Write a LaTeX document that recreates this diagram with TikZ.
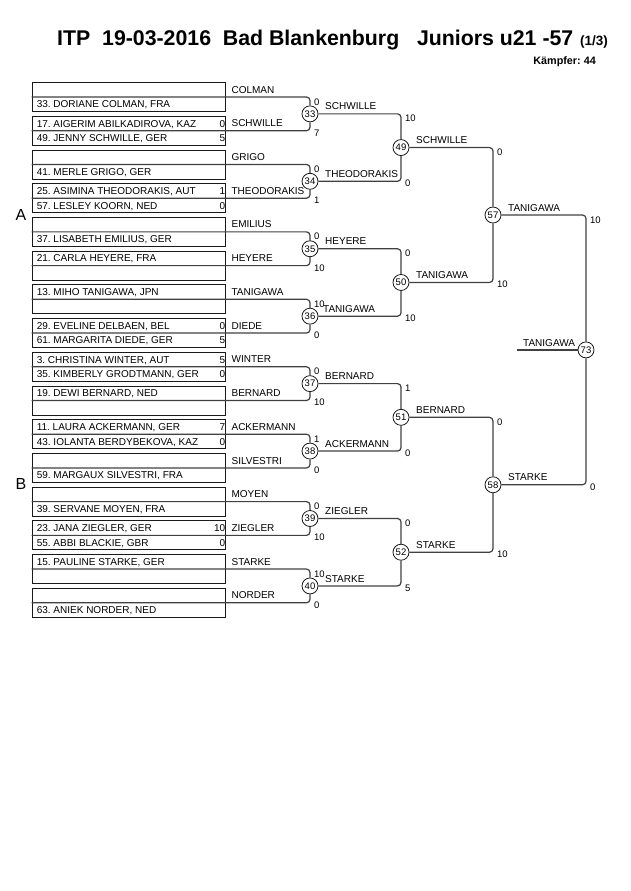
\documentclass[tikz,border=0pt]{standalone}
\usepackage{fontspec}
\setmainfont{Liberation Sans}
\usetikzlibrary{calc}
\frenchspacing

\begin{document}
\begin{tikzpicture}[x=1pt,y=-1pt]
    \tikzstyle{entry} = [rectangle, draw=black!90, line width=0.8pt, minimum width=193pt, minimum height=29pt, inner sep=0pt]
    \tikzstyle{fighter} = [anchor=base west, inner sep=0pt, font=\fontsize{10}{12}\selectfont]
    \tikzstyle{boxscore} = [anchor=base east, inner sep=0pt, font=\fontsize{10}{12}\selectfont]
    \tikzstyle{winner} = [anchor=base west, inner sep=0pt, font=\fontsize{10}{12}\selectfont]
    \tikzstyle{score} = [anchor=base west, inner sep=0pt, font=\fontsize{9.5}{11}\selectfont]
    \tikzstyle{match} = [circle, draw=black!90, line width=0.8pt, fill=white, minimum size=16pt, inner sep=0pt, font=\fontsize{9.5}{10}\selectfont]
    \tikzstyle{line} = [draw=black!75, line width=1.2pt, rounded corners=3.5pt]
    \useasboundingbox (0,0) rectangle (630,891);
    % Header
    \node (title) [anchor=base west, inner sep=0pt, font=\bfseries\fontsize{21.3}{21}\selectfont] at (57,46) {ITP\ \ 19-03-2016\ \ Bad Blankenburg\ \ \ Juniors u21 -57};
    \node (page) [anchor=base west, inner sep=0pt, font=\bfseries\fontsize{13.5}{13}\selectfont] at (580,46) {(1/3)};
    \node (count) [anchor=base east, inner sep=0pt, font=\bfseries\fontsize{10.8}{10}\selectfont] at (596,64) {Kämpfer: 44};
    \node (poolA) [font=\fontsize{16}{16}\selectfont] at (21,215) {A};
    \node (poolB) [font=\fontsize{16}{16}\selectfont] at (21,484) {B};
    % Entries
    \foreach \k/\first/\firstsc/\second/\secondsc/\who in {
        0/{}/{}/{33. DORIANE COLMAN, FRA}/{}/COLMAN,
        1/{17. AIGERIM ABILKADIROVA, KAZ}/0/{49. JENNY SCHWILLE, GER}/5/SCHWILLE,
        2/{}/{}/{41. MERLE GRIGO, GER}/{}/GRIGO,
        3/{25. ASIMINA THEODORAKIS, AUT}/1/{57. LESLEY KOORN, NED}/0/THEODORAKIS,
        4/{}/{}/{37. LISABETH EMILIUS, GER}/{}/EMILIUS,
        5/{21. CARLA HEYERE, FRA}/{}/{}/{}/HEYERE,
        6/{13. MIHO TANIGAWA, JPN}/{}/{}/{}/TANIGAWA,
        7/{29. EVELINE DELBAEN, BEL}/0/{61. MARGARITA DIEDE, GER}/5/DIEDE,
        8/{3. CHRISTINA WINTER, AUT}/5/{35. KIMBERLY GRODTMANN, GER}/0/WINTER,
        9/{19. DEWI BERNARD, NED}/{}/{}/{}/BERNARD,
        10/{11. LAURA ACKERMANN, GER}/7/{43. IOLANTA BERDYBEKOVA, KAZ}/0/ACKERMANN,
        11/{}/{}/{59. MARGAUX SILVESTRI, FRA}/{}/SILVESTRI,
        12/{}/{}/{39. SERVANE MOYEN, FRA}/{}/MOYEN,
        13/{23. JANA ZIEGLER, GER}/10/{55. ABBI BLACKIE, GBR}/0/ZIEGLER,
        14/{15. PAULINE STARKE, GER}/{}/{}/{}/STARKE,
        15/{}/{}/{63. ANIEK NORDER, NED}/{}/NORDER}{
        \node (b\k) [entry] at (128.5,97+33.72*\k) {};
        \node [fighter] at ($(b\k.west)+(5,-3.7)$) {\first};
        \node [fighter] at ($(b\k.west)+(5,10.9)$) {\second};
        \node [boxscore] at ($(b\k.east)+(0,-3.7)$) {\firstsc};
        \node [boxscore] at ($(b\k.east)+(0,10.9)$) {\secondsc};
        \node [winner] at ($(b\k.east)+(6,-3.9)$) {\who};
    }
    % Matches
    \node (m33) [match] at (310,113.86) {33};
    \node (m34) [match] at (310,181.30) {34};
    \node (m35) [match] at (310,248.74) {35};
    \node (m36) [match] at (310,316.18) {36};
    \node (m37) [match] at (310,383.62) {37};
    \node (m38) [match] at (310,451.06) {38};
    \node (m39) [match] at (310,518.50) {39};
    \node (m40) [match] at (310,585.94) {40};
    \node (m49) [match] at (401,147.58) {49};
    \node (m50) [match] at (401,282.46) {50};
    \node (m51) [match] at (401,417.34) {51};
    \node (m52) [match] at (401,552.22) {52};
    \node (m57) [match] at (493,215.02) {57};
    \node (m58) [match] at (493,484.78) {58};
    \node (m73) [match] at (586,349.90) {73};
    \coordinate (final) at (517,349.90);
    % Lines
    \draw [line] (b0.west) -- (b0.west -| m33) -- (m33);
    \draw [line] (b1.west) -- (b1.west -| m33) -- (m33);
    \draw [line] (b2.west) -- (b2.west -| m34) -- (m34);
    \draw [line] (b3.west) -- (b3.west -| m34) -- (m34);
    \draw [line] (b4.west) -- (b4.west -| m35) -- (m35);
    \draw [line] (b5.west) -- (b5.west -| m35) -- (m35);
    \draw [line] (b6.west) -- (b6.west -| m36) -- (m36);
    \draw [line] (b7.west) -- (b7.west -| m36) -- (m36);
    \draw [line] (b8.west) -- (b8.west -| m37) -- (m37);
    \draw [line] (b9.west) -- (b9.west -| m37) -- (m37);
    \draw [line] (b10.west) -- (b10.west -| m38) -- (m38);
    \draw [line] (b11.west) -- (b11.west -| m38) -- (m38);
    \draw [line] (b12.west) -- (b12.west -| m39) -- (m39);
    \draw [line] (b13.west) -- (b13.west -| m39) -- (m39);
    \draw [line] (b14.west) -- (b14.west -| m40) -- (m40);
    \draw [line] (b15.west) -- (b15.west -| m40) -- (m40);
    \draw [line] (m33) -- (m33 -| m49) -- (m49);
    \draw [line] (m34) -- (m34 -| m49) -- (m49);
    \draw [line] (m35) -- (m35 -| m50) -- (m50);
    \draw [line] (m36) -- (m36 -| m50) -- (m50);
    \draw [line] (m37) -- (m37 -| m51) -- (m51);
    \draw [line] (m38) -- (m38 -| m51) -- (m51);
    \draw [line] (m39) -- (m39 -| m52) -- (m52);
    \draw [line] (m40) -- (m40 -| m52) -- (m52);
    \draw [line] (m49) -- (m49 -| m57) -- (m57);
    \draw [line] (m50) -- (m50 -| m57) -- (m57);
    \draw [line] (m51) -- (m51 -| m58) -- (m58);
    \draw [line] (m52) -- (m52 -| m58) -- (m58);
    \draw [line] (m57) -- (m57 -| m73) -- (m73);
    \draw [line] (m58) -- (m58 -| m73) -- (m73);
    \draw [line] (final) -- (m73);
    % Winners
    \node [winner] at ($(m33)+(15,-3.9)$) {SCHWILLE};
    \node [winner] at ($(m34)+(15,-3.9)$) {THEODORAKIS};
    \node [winner] at ($(m35)+(15,-3.9)$) {HEYERE};
    \node [winner] at ($(m36)+(13,-3.9)$) {TANIGAWA};
    \node [winner] at ($(m37)+(15,-3.9)$) {BERNARD};
    \node [winner] at ($(m38)+(15,-3.9)$) {ACKERMANN};
    \node [winner] at ($(m39)+(15,-3.9)$) {ZIEGLER};
    \node [winner] at ($(m40)+(15,-3.9)$) {STARKE};
    \node [winner] at ($(m49)+(15,-3.9)$) {SCHWILLE};
    \node [winner] at ($(m50)+(15,-3.9)$) {TANIGAWA};
    \node [winner] at ($(m51)+(15,-3.9)$) {BERNARD};
    \node [winner] at ($(m52)+(15,-3.9)$) {STARKE};
    \node [winner] at ($(m57)+(15,-3.9)$) {TANIGAWA};
    \node [winner] at ($(m58)+(15,-3.9)$) {STARKE};
    \node [winner] at ($(final)+(6,-3.9)$) {TANIGAWA};
    % Scores
    \foreach \up/\down/\m/\a/\b in {b0/b1/m33/0/7, b2/b3/m34/0/1, b4/b5/m35/0/10, b6/b7/m36/10/0,
        b8/b9/m37/0/10, b10/b11/m38/1/0, b12/b13/m39/0/10, b14/b15/m40/10/0,
        m33/m34/m49/10/0, m35/m36/m50/0/10, m37/m38/m51/1/0, m39/m40/m52/0/5,
        m49/m50/m57/0/10, m51/m52/m58/0/10, m57/m58/m73/10/0}{
        \node [score] at ($(\up -| \m)+(4,8)$) {\a};
        \node [score] at ($(\down -| \m)+(4,5.5)$) {\b};
    }
\end{tikzpicture}
\end{document}
